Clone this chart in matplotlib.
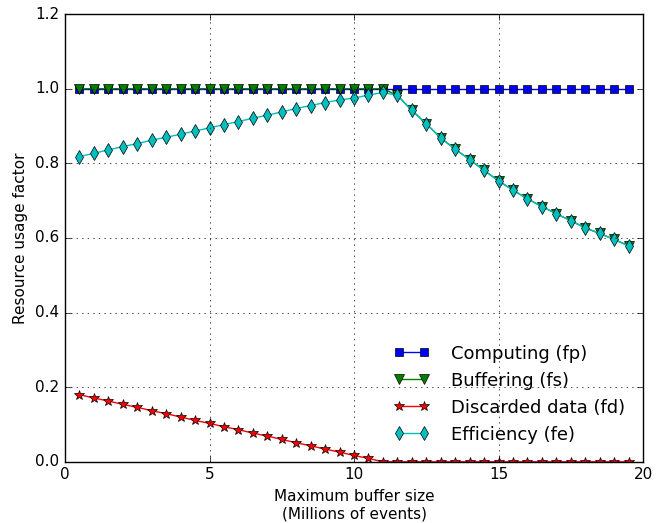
import numpy as np
import matplotlib
matplotlib.use('Agg')
import matplotlib.pyplot as plt

plt.style.use('classic')

# buffer sizes (millions of events)
buffer_size = [0.5, 1.0, 1.5, 2.0, 2.5, 3.0, 3.5, 4.0, 4.5, 5.0,
               5.5, 6.0, 6.5, 7.0, 7.5, 8.0, 8.5, 9.0, 9.5, 10.0,
               10.5, 11.0, 11.5, 12.0, 12.5, 13.0, 13.5, 14.0, 14.5, 15.0,
               15.5, 16.0, 16.5, 17.0, 17.5, 18.0, 18.5, 19.0, 19.5]

computing = [1.0] * 39

efficiency = [0.818, 0.827, 0.836, 0.845, 0.853, 0.862, 0.870, 0.878, 0.887, 0.895,
              0.904, 0.912, 0.921, 0.929, 0.938, 0.947, 0.955, 0.963, 0.970, 0.975,
              0.983, 0.990, 0.982, 0.942, 0.906, 0.868, 0.838, 0.810, 0.781, 0.753,
              0.728, 0.705, 0.684, 0.665, 0.646, 0.627, 0.612, 0.596, 0.579]

buffering = [1.0] * 22 + efficiency[22:]

discarded = [0.180, 0.171, 0.163, 0.154, 0.146, 0.137, 0.129, 0.120, 0.111, 0.103,
             0.094, 0.086, 0.077, 0.069, 0.060, 0.051, 0.043, 0.034, 0.026, 0.017,
             0.009, 0.0, 0.0, 0.0, 0.0, 0.0, 0.0, 0.0, 0.0, 0.0,
             0.0, 0.0, 0.0, 0.0, 0.0, 0.0, 0.0, 0.0, 0.0]

fig = plt.figure(figsize=(6.63, 5.23), dpi=100, facecolor='white')
ax = fig.add_axes([0.098, 0.117, 0.872, 0.856])

ax.plot(buffer_size, computing, 's-', color='b', mec='k', ms=6, label='Computing (fp)')
ax.plot(buffer_size, buffering, 'v-', color='g', mec='k', ms=7, label='Buffering (fs)')
ax.plot(buffer_size, discarded, '*-', color='r', mec='k', ms=7, label='Discarded data (fd)')
ax.plot(buffer_size, efficiency, 'd-', color='c', mec='k', ms=7, label='Efficiency (fe)')

ax.set_xlim(0, 20)
ax.set_ylim(0, 1.2)
ax.set_xticks([0, 5, 10, 15, 20])
ax.set_yticks([0.0, 0.2, 0.4, 0.6, 0.8, 1.0, 1.2])
ax.tick_params(labelsize=11)
ax.grid(True)

ax.set_xlabel('Maximum buffer size\n(Millions of events)', fontsize=11)
ax.set_ylabel('Resource usage factor', fontsize=11)

ax.legend(loc='lower right', frameon=False, fontsize=13, numpoints=2,
          handletextpad=1.2, borderaxespad=0.6)

fig.savefig('out.png', dpi=100, facecolor='white')
